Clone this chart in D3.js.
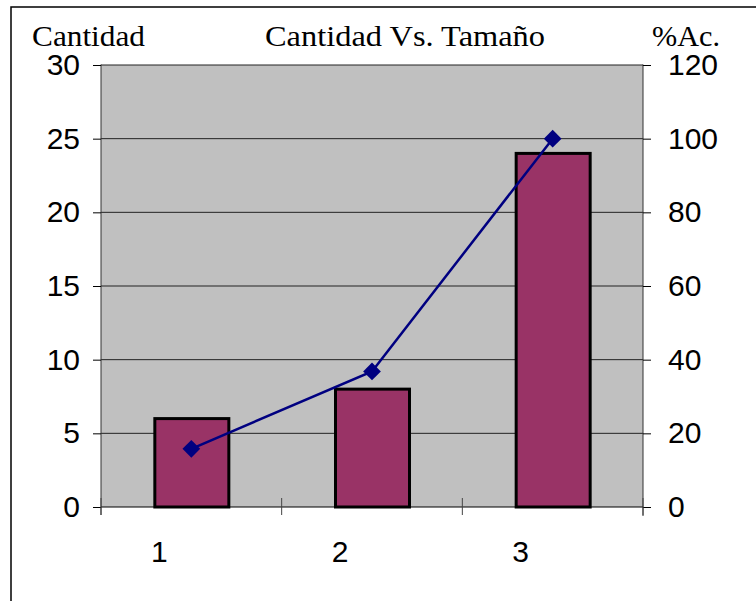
<!DOCTYPE html>
<html>
<head>
<meta charset="utf-8">
<script src="https://cdn.jsdelivr.net/npm/d3@7"></script>
<style>
  body { margin: 0; background: #fff; }
  svg { display: block; }
</style>
</head>
<body>
<div id="chart"></div>
<script>
var width = 756;
var height = 601;

// data
var categories = ["1", "2", "3"];
var cantidad = [6, 8, 24];
var porcAcum = [15.8, 36.8, 100];
var leftTicks = [0, 5, 10, 15, 20, 25, 30];
var rightTicks = [0, 20, 40, 60, 80, 100, 120];

var plot = {left: 101, right: 643, top: 65, bottom: 507};

var svg = d3.select('#chart')
  .append('svg')
  .attr('width', width)
  .attr('height', height);

// outer frame (runs off the right and bottom)
svg.append('rect')
  .attr('x', 11).attr('y', 7)
  .attr('width', 800).attr('height', 700)
  .attr('fill', '#fff')
  .attr('stroke', '#000')
  .attr('stroke-width', 1.5);

var x = d3.scaleBand()
  .domain(categories)
  .range([plot.left, plot.right]);

var yL = d3.scaleLinear().domain([0, 30]).range([plot.bottom, plot.top]);
var yR = d3.scaleLinear().domain([0, 120]).range([plot.bottom, plot.top]);

// plot area
svg.append('rect')
  .attr('x', plot.left).attr('y', plot.top)
  .attr('width', plot.right - plot.left)
  .attr('height', plot.bottom - plot.top)
  .attr('fill', '#c0c0c0');

// gridlines
svg.selectAll('.grid')
  .data(leftTicks.slice(1))
  .enter()
  .append('line')
  .attr('x1', plot.left).attr('x2', plot.right)
  .attr('y1', function(d){ return yL(d); })
  .attr('y2', function(d){ return yL(d); })
  .attr('stroke', '#222')
  .attr('stroke-width', 1);

// bars
var barW = 74;
svg.selectAll('.bar')
  .data(cantidad)
  .enter()
  .append('rect')
  .attr('x', function(d, i){ return x(categories[i]) + x.bandwidth() / 2 - barW / 2 + 0.5; })
  .attr('y', function(d){ return yL(d); })
  .attr('width', barW)
  .attr('height', function(d){ return yL(0) - yL(d); })
  .attr('fill', '#993366')
  .attr('stroke', '#000')
  .attr('stroke-width', 3);

var sans = 'Liberation Sans, Arial, sans-serif';
var serif = 'Liberation Serif, Times New Roman, serif';

// left axis
var leftAxis = d3.axisLeft(yL).tickValues(leftTicks).tickSize(8).tickPadding(13);
var gL = svg.append('g')
  .attr('transform', 'translate(' + plot.left + ',0)')
  .call(leftAxis);

// right axis
var rightAxis = d3.axisRight(yR).tickValues(rightTicks).tickSize(8).tickPadding(17);
var gR = svg.append('g')
  .attr('transform', 'translate(' + plot.right + ',0)')
  .call(rightAxis);

// bottom axis: ticks on the band edges, cross the axis
var edges = [plot.left].concat(categories.map(function(c){ return x(c) + x.bandwidth(); }));
svg.append('line')
  .attr('x1', plot.left).attr('x2', plot.right)
  .attr('y1', plot.bottom).attr('y2', plot.bottom)
  .attr('stroke', '#000').attr('stroke-width', 1);
svg.selectAll('.xtick')
  .data(edges)
  .enter()
  .append('line')
  .attr('x1', function(d){ return d; }).attr('x2', function(d){ return d; })
  .attr('y1', plot.bottom - 9).attr('y2', plot.bottom + 8)
  .attr('stroke', '#444').attr('stroke-width', 1);

svg.selectAll('.xlabel')
  .data(categories)
  .enter()
  .append('text')
  .attr('x', function(d){ return x(d) + x.bandwidth() / 2 - 32; })
  .attr('y', 562)
  .attr('text-anchor', 'middle')
  .attr('font-family', sans)
  .attr('font-size', 30)
  .text(function(d){ return d; });

[gL, gR].forEach(function(g){
  g.select('.domain').attr('stroke', '#333').attr('stroke-width', 1);
  g.selectAll('.tick line').attr('stroke', '#000');
  g.selectAll('.tick text')
    .attr('font-family', sans)
    .attr('font-size', 30)
    .attr('fill', '#000');
});
gL.select('.domain').attr('d', 'M0,' + (plot.top - 0.5) + 'V' + (plot.bottom + 8));
gR.select('.domain').attr('d', 'M0,' + (plot.top - 0.5) + 'V' + (plot.bottom + 9));

// cumulative % line
var line = d3.line()
  .x(function(d, i){ return x(categories[i]) + x.bandwidth() / 2; })
  .y(function(d){ return yR(d); });

svg.append('path')
  .datum(porcAcum)
  .attr('d', line)
  .attr('fill', 'none')
  .attr('stroke', '#000080')
  .attr('stroke-width', 2.5);

svg.selectAll('.pt')
  .data(porcAcum)
  .enter()
  .append('path')
  .attr('d', d3.symbol().type(d3.symbolDiamond2).size(200))
  .attr('transform', function(d, i){
    return 'translate(' + (x(categories[i]) + x.bandwidth() / 2) + ',' + yR(d) + ')';
  })
  .attr('fill', '#000080');

// titles
svg.append('text').attr('x', 32).attr('y', 46)
  .attr('font-family', serif).attr('font-size', 30)
  .attr('textLength', 113).attr('lengthAdjust', 'spacingAndGlyphs')
  .text('Cantidad');
svg.append('text').attr('x', 265).attr('y', 46)
  .attr('font-family', serif).attr('font-size', 30)
  .attr('textLength', 280).attr('lengthAdjust', 'spacingAndGlyphs')
  .text('Cantidad Vs. Tamaño');
svg.append('text').attr('x', 652).attr('y', 46)
  .attr('font-family', serif).attr('font-size', 30)
  .attr('textLength', 68).attr('lengthAdjust', 'spacingAndGlyphs')
  .text('%Ac.');
</script>
</body>
</html>
